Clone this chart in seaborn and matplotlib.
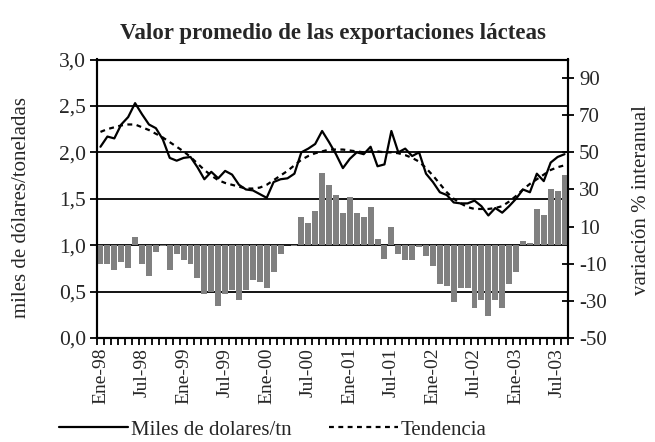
import numpy as np
import pandas as pd
import matplotlib
matplotlib.use("Agg")
import matplotlib.pyplot as plt
import seaborn as sns
from matplotlib.ticker import FixedLocator

# ---------------- data ----------------
month_names = ["Ene", "Feb", "Mar", "Abr", "May", "Jun",
               "Jul", "Ago", "Sep", "Oct", "Nov", "Dic"]
years = ["98", "99", "00", "01", "02", "03"]
months = [f"{m}-{y}" for y in years for m in month_names][:68]

# miles de dolares / tonelada (left axis)
valor = [2.06, 2.17, 2.15, 2.30, 2.38, 2.53, 2.41, 2.30, 2.26, 2.14,
         1.94, 1.91, 1.94, 1.95, 1.84, 1.71, 1.79, 1.72, 1.80, 1.76,
         1.65, 1.60, 1.59, 1.55, 1.51, 1.68, 1.71, 1.72, 1.77, 2.00,
         2.04, 2.09, 2.23, 2.11, 1.98, 1.83, 1.93, 2.00, 1.98, 2.06,
         1.85, 1.87, 2.23, 2.00, 2.04, 1.96, 2.00, 1.77, 1.68, 1.57,
         1.54, 1.46, 1.45, 1.45, 1.48, 1.42, 1.32, 1.40, 1.35, 1.42,
         1.50, 1.60, 1.57, 1.77, 1.69, 1.89, 1.95, 1.98]

# tendencia (left axis)
tendencia = [2.22, 2.25, 2.27, 2.29, 2.30, 2.30, 2.27, 2.24, 2.20, 2.16,
             2.11, 2.06, 2.01, 1.95, 1.88, 1.81, 1.75, 1.70, 1.67, 1.65,
             1.63, 1.61, 1.61, 1.62, 1.65, 1.70, 1.75, 1.80, 1.86, 1.92,
             1.96, 1.99, 2.01, 2.03, 2.03, 2.03, 2.02, 2.01, 2.00, 2.01,
             2.01, 2.00, 2.00, 1.99, 1.97, 1.94, 1.90, 1.83, 1.75, 1.66,
             1.57, 1.50, 1.45, 1.41, 1.39, 1.39, 1.39, 1.40, 1.42, 1.47,
             1.53, 1.60, 1.66, 1.71, 1.76, 1.81, 1.84, 1.86]

# variacion % interanual (right axis)
variacion = [-10.1, -10.1, -13.3, -9.2, -12.2, 4.3, -10.1, -16.5, -3.6, -0.3,
             -13.3, -4.7, -7.9, -10.1, -17.6, -26.2, -25.2, -32.7, -26.2, -24.1,
             -29.5, -24.0, -18.5, -19.8, -23.0, -14.4, -4.7, 0.3, -0.3, 15.1,
             12.0, 18.3, 38.8, 32.5, 27.1, 17.2, 25.9, 17.2, 15.1, 20.5,
             3.2, -7.7, 9.7, -4.5, -7.9, -7.9, -1.1, -5.8, -11.1, -20.8,
             -21.9, -30.5, -23.0, -23.0, -33.8, -29.5, -38.1, -29.5, -33.8, -20.8,
             -14.4, 2.2, 1.1, 19.4, 16.2, 30.3, 29.1, 37.6]

left_ticks = [0.0, 0.5, 1.0, 1.5, 2.0, 2.5, 3.0]
left_tick_labels = ["0,0", "0,5", "1,0", "1,5", "2,0", "2,5", "3,0"]
right_ticks = [-50, -30, -10, 10, 30, 50, 70, 90]
x_label_months = ["Ene-98", "Jul-98", "Ene-99", "Jul-99", "Ene-00", "Jul-00",
                  "Ene-01", "Jul-01", "Ene-02", "Jul-02", "Ene-03", "Jul-03"]

title = "Valor promedio de las exportaciones lácteas"
left_label = "miles de dólares/toneladas"
right_label = "variación % interanual"
legend_labels = ["Miles de dolares/tn", "Tendencia"]

df = pd.DataFrame({"mes": months, "pos": np.arange(len(months)),
                   "valor": valor, "tendencia": tendencia,
                   "variacion": variacion})

# ---------------- style ----------------
sns.set_theme(style="white")
plt.rcParams["font.family"] = ["Liberation Serif", "DejaVu Serif"]
FS = 15

W, H = 655, 442
fig = plt.figure(figsize=(W / 100, H / 100), dpi=100)
fig.patch.set_facecolor("white")
L, R, T, B = 97, 568, 59.5, 338
ax = fig.add_axes([L / W, 1 - B / H, (R - L) / W, (B - T) / H])
ax2 = ax.twinx()
ax3 = ax.twinx()

ax.set_zorder(0)
ax2.set_zorder(1)
ax3.set_zorder(2)
ax2.patch.set_visible(False)
ax3.patch.set_visible(False)

# bars (right axis)
sns.barplot(data=df, x="pos", y="variacion", ax=ax2, color="#808080",
            saturation=1, width=0.86, edgecolor="none", linewidth=0)

# lines (left scale)
sns.lineplot(data=df, x="pos", y="valor", ax=ax3, color="black",
             linewidth=1.6, label=legend_labels[0], legend=False)
sns.lineplot(data=df, x="pos", y="tendencia", ax=ax3, color="black",
             linewidth=1.6, linestyle=(0, (2.2, 2.0)),
             label=legend_labels[1], legend=False)

# axes limits
ax.set_ylim(0, 3)
ax3.set_ylim(0, 3)
ax2.set_ylim(-50, 100)
ax.set_xlim(-0.5, len(months) - 0.5)

# left axis
ax.set_yticks(left_ticks)
ax.set_yticklabels(left_tick_labels, fontsize=FS + 0.5)
ax.tick_params(axis="y", which="major", direction="out", length=5,
               width=1.3, color="black", pad=3, left=True)
ax.yaxis.grid(True, color="black", linewidth=1.3)
ax.xaxis.grid(False)
ax.set_ylabel("")

# right axis
ax2.set_yticks(right_ticks)
ax2.set_yticklabels([str(t) for t in right_ticks], fontsize=FS)
ax2.tick_params(axis="y", which="major", direction="inout", length=8,
                width=1.3, color="black", pad=4, right=True)
ax2.set_ylabel("")
ax2.set_xlabel("")
ax2.grid(False)

ax3.yaxis.set_visible(False)
ax3.set_xlabel("")
ax3.set_ylabel("")
ax3.grid(False)
for s in ax3.spines.values():
    s.set_visible(False)

# x axis
pos_map = {m: i for i, m in enumerate(months)}
ax.xaxis.set_major_locator(FixedLocator([pos_map[m] for m in x_label_months]))
ax.set_xticklabels(x_label_months, rotation=90, fontsize=FS - 1)
ax.xaxis.set_minor_locator(FixedLocator(np.arange(-0.5, len(months), 1.0)))
ax.tick_params(axis="x", which="major", length=0, pad=7, bottom=True)
ax.tick_params(axis="x", which="minor", direction="out", length=5,
               width=1.3, color="black", bottom=True)
ax.set_xlabel("")
ax.set_xlim(-0.5, len(months) - 0.5)

for a in (ax, ax2):
    for s in a.spines.values():
        s.set_color("black")
        s.set_linewidth(1.5)

# texts
fig.text(333 / W, 1 - 33 / H, title, ha="center", va="center",
         fontsize=FS + 1.5, fontweight="bold")
fig.text(22 / W, 1 - 208 / H, left_label, ha="center", va="center",
         rotation=90, fontsize=FS)
fig.text(641 / W, 1 - 200 / H, right_label, ha="center", va="center",
         rotation=90, fontsize=FS)

handles, labels = ax3.get_legend_handles_labels()
fig.legend(handles, labels, loc="center", bbox_to_anchor=(273 / W, 1 - 430 / H),
           ncol=2, frameon=False, fontsize=FS, handlelength=3.3,
           handletextpad=0.15, columnspacing=1.8, borderaxespad=0,
           borderpad=0)

fig.savefig("out.png", dpi=100, facecolor="white")
